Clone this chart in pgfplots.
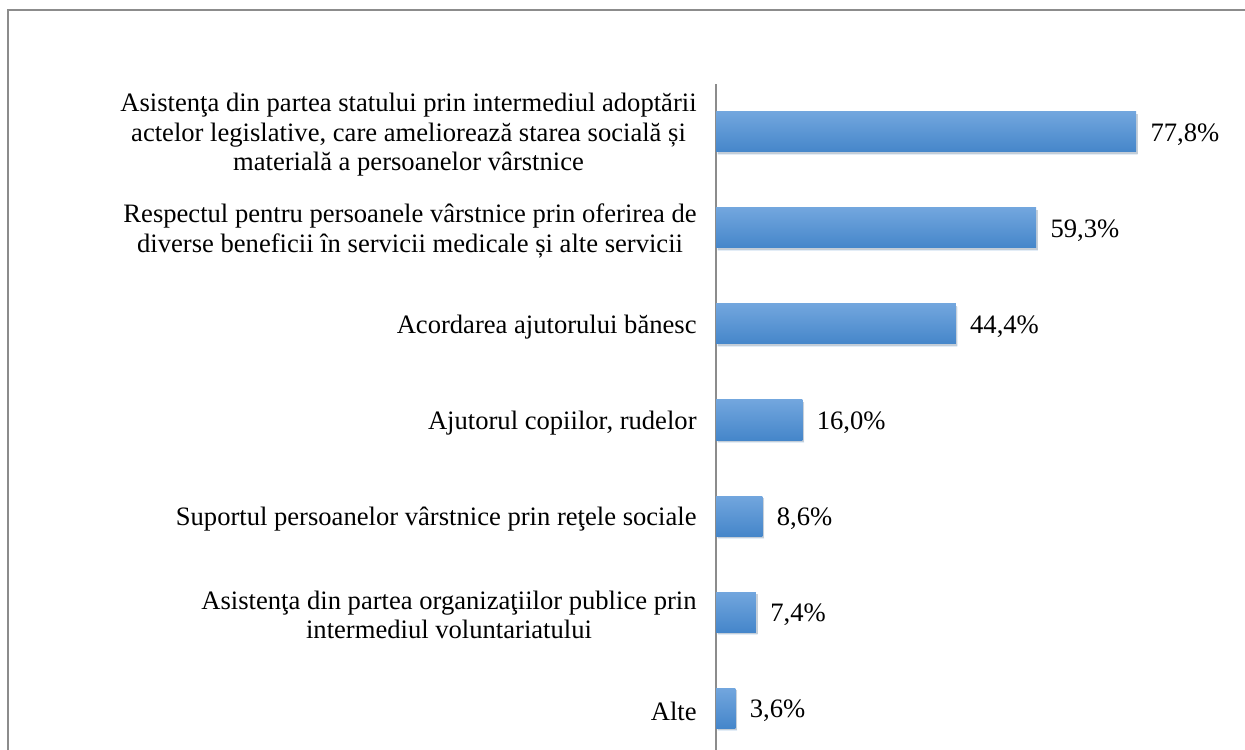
\documentclass[border=0pt]{standalone}
\usepackage{fontspec}
\setmainfont{Liberation Serif}
\usepackage{pgfplots}
\pgfplotsset{compat=1.18}
\usetikzlibrary{shadows}

\definecolor{barTop}{HTML}{72A6DE}
\definecolor{barBot}{HTML}{4586CA}
\definecolor{frameGray}{HTML}{8C8C8C}

\newcommand{\lblfont}{\fontsize{13.3}{14.8}\selectfont}

\pgfplotsset{
    mybar/.style={draw=none, top color=barTop, bottom color=barBot,
        drop shadow={shadow xshift=0.8pt, shadow yshift=-1.2pt, opacity=0.15, fill=black}},
}

\begin{document}
\begin{tikzpicture}
\useasboundingbox (0,0) rectangle (622.5pt,374.5pt);
% outer frame (cut at right and bottom)
\draw[frameGray, line width=0.8pt] (4pt,-5pt) -- (4pt,369.5pt) -- (630pt,369.5pt);

\begin{axis}[
    at={(358pt,-3.5pt)}, anchor=south west,
    scale only axis,
    width=243pt, height=336pt,
    xmin=0, xmax=90,
    ymin=-0.5, ymax=6.5,
    axis x line=none,
    axis y line*=left,
    y axis line style={draw=frameGray, line width=0.6pt, -},
    ytick={0,...,6},
    major tick length=0pt,
    yticklabels={
        {Alte},
        {Asistenţa din partea organizaţiilor publice prin\\intermediul voluntariatului},
        {Suportul persoanelor vârstnice prin reţele sociale},
        {Ajutorul copiilor, rudelor},
        {Acordarea ajutorului bănesc},
        {Respectul pentru persoanele vârstnice prin oferirea de\\diverse beneficii în servicii medicale și alte servicii},
        {Asistenţa din partea statului prin intermediul adoptării\\actelor legislative, care ameliorează starea socială și\\materială a persoanelor vârstnice}
    },
    yticklabel style={align=center, font=\lblfont, inner sep=0pt, xshift=-9.5pt, yshift=-1.5pt},
    xbar, bar width=20pt, bar shift=0pt,
    point meta=x,
    nodes near coords={\pgfmathprintnumber[fixed,fixed zerofill,precision=1,use comma,assume math mode=true]{\pgfplotspointmeta}\%},
    nodes near coords align=horizontal,
    every node near coord/.append style={font=\lblfont, inner sep=0pt, xshift=7pt, yshift=-1.5pt, anchor=west, text=black},
    clip=false,
]
% one plot per bar so that each bar gets its own gradient
\addplot[mybar] coordinates {(3.6,0)};
\addplot[mybar] coordinates {(7.4,1)};
\addplot[mybar] coordinates {(8.6,2)};
\addplot[mybar] coordinates {(16.0,3)};
\addplot[mybar] coordinates {(44.4,4)};
\addplot[mybar] coordinates {(59.3,5)};
\addplot[mybar] coordinates {(77.8,6)};
\end{axis}
\end{tikzpicture}
\end{document}
